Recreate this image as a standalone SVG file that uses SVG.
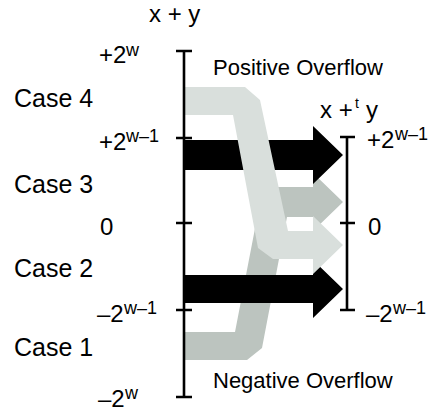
<svg xmlns="http://www.w3.org/2000/svg" width="436" height="414" viewBox="0 0 436 414">
<style>
text{font-family:"Liberation Sans",Arial,sans-serif;fill:#000}
.lbl{font-size:22px}
.val{font-size:24px}
.case{font-size:25px}
.sup{font-size:18px}
.axis{stroke:#000;stroke-width:2.6;fill:none}
.light{fill:#d9dfdc}
.gray{fill:#bcc4bf}
.black{fill:#000}
</style>
<rect width="436" height="414" fill="#fff"/>
<g id="connectors">
<path class="gray" d="M184,332 L235,332 L263,187 L313,187 L313,173 L343,202 L313,231 L313,217 L287,217 L262,348 L247,360 L184,360 Z"/>
<path class="black" d="M184,140 L313,140 L313,126 L343,155 L313,184 L313,170 L184,170 Z"/>
<path class="black" d="M184,275 L313,275 L313,260 L343,289 L313,318 L313,303 L184,303 Z"/>
<path class="light" d="M184,87 L245,87 L260,100 L288,231 L313,231 L313,216 L343,245 L313,274 L313,259 L273,259 L258,248 L233,115 L184,115 Z"/>
</g>
<g id="axis-left">
<path class="axis" d="M184,51 V397 M176,51 H192 M176,138 H192 M176,223 H192 M176,310 H192 M176,397 H192"/>
<text class="val" x="149" y="22">x + y</text>
</g>
<g id="axis-right">
<path class="axis" d="M347,137 V310 M340,137 H355 M340,223 H355 M340,310 H355"/>
<text class="val" x="320" y="118">x +</text>
<text x="355" y="108" style="font-size:14px">t</text>
<text class="val" x="366" y="118">y</text>
</g>
<g id="labels-left">
<text class="val" x="99" y="63">+2</text><text class="sup" x="126" y="56">w</text>
<text class="val" x="99" y="150">+2</text><text class="sup" x="126" y="142">w–1</text>
<text class="val" x="100" y="235">0</text>
<text class="val" x="97" y="322">–2</text><text class="sup" x="124" y="314">w–1</text>
<text class="val" x="98" y="407">–2</text><text class="sup" x="125" y="399">w</text>
</g>
<g id="labels-right">
<text class="val" x="367" y="148">+2</text><text class="sup" x="395" y="140">w–1</text>
<text class="val" x="368" y="235">0</text>
<text class="val" x="366" y="322">–2</text><text class="sup" x="393" y="314">w–1</text>
</g>
<g id="cases">
<text class="case" x="14" y="107">Case 4</text>
<text class="case" x="14" y="193">Case 3</text>
<text class="case" x="14" y="277">Case 2</text>
<text class="case" x="14" y="356">Case 1</text>
</g>
<g id="overflow">
<text class="lbl" x="213" y="75">Positive Overflow</text>
<text class="lbl" x="213" y="388">Negative Overflow</text>
</g>
</svg>
